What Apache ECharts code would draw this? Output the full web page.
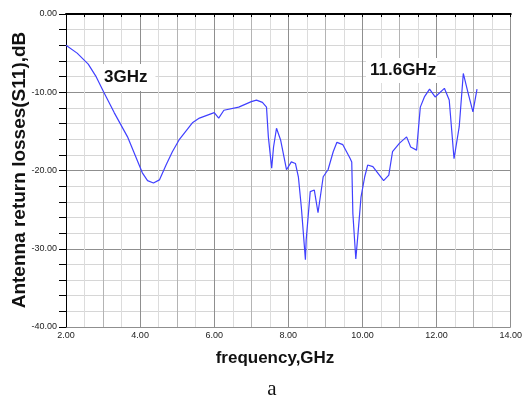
<!DOCTYPE html>
<html><head><meta charset="utf-8">
<script src="https://cdn.jsdelivr.net/npm/echarts@6/dist/echarts.min.js"></script>
<style>html,body{margin:0;padding:0;background:#fff}#c{width:525px;height:401px}</style>
</head><body><div id="c"></div>
<script>
const freqGHz = [2.0,2.3,2.6,2.8,3.02,3.3,3.66,4.06,4.2,4.36,4.52,4.7,4.87,5.05,5.41,5.6,6.0,6.12,6.26,6.66,7.0,7.14,7.3,7.41,7.46,7.55,7.6,7.68,7.79,7.95,8.08,8.19,8.27,8.35,8.46,8.48,8.59,8.70,8.80,8.94,9.07,9.21,9.31,9.47,9.66,9.71,9.74,9.82,9.88,9.96,10.06,10.14,10.28,10.57,10.71,10.81,11.0,11.19,11.30,11.46,11.56,11.67,11.81,11.96,12.21,12.34,12.47,12.61,12.72,12.85,12.98,13.09];
const s11dB = [-4.0,-5.0,-6.4,-7.9,-10.0,-12.6,-15.7,-20.3,-21.3,-21.6,-21.2,-19.3,-17.6,-16.1,-13.9,-13.3,-12.6,-13.3,-12.3,-11.9,-11.2,-11.0,-11.3,-11.9,-15.7,-19.7,-17.0,-14.6,-16.1,-19.9,-18.9,-19.1,-20.8,-24.7,-31.4,-28.9,-22.7,-22.5,-25.4,-20.8,-19.9,-17.6,-16.4,-16.7,-18.4,-18.9,-25.5,-31.3,-28.0,-23.4,-20.8,-19.3,-19.5,-21.3,-20.6,-17.6,-16.5,-15.7,-17.0,-17.4,-11.9,-10.6,-9.6,-10.6,-9.5,-11.0,-18.5,-14.4,-7.6,-10.1,-12.5,-9.6];
const xLabelStep = 2;
const yLabelStep = 10;
const yAxisTitle = 'Antenna return losses(S11),dB';
const xAxisTitle = 'frequency,GHz';
const subCaption = 'a';
const annotations = ['3GHz', '11.6GHz'];

const chart = echarts.init(document.getElementById('c'));
const font = '"Liberation Sans", Arial, sans-serif';
chart.setOption({
  animation: false,
  grid: { left: 66, right: 11, top: 14, bottom: 74, containLabel: false },
  xAxis: [{
    type: 'value', min: 2, max: 14, interval: 0.5,
    axisLine: { show: true, lineStyle: { color: '#000', width: 2 } },
    axisTick: { show: true, length: 3, lineStyle: { color: '#000' } },
    axisLabel: { margin: 4, fontFamily: font, fontSize: 9, color: '#222',
      formatter: v => (Math.abs(v % xLabelStep) < 1e-9 ? v.toFixed(2) : '') },
    splitLine: { show: true, lineStyle: { width: 1, color: ['#8f8f8f', '#dcdcdc', '#b4b4b4', '#dcdcdc'] } }
  }, {
    type: 'value', min: 2, max: 14, position: 'top',
    axisLine: { show: true, lineStyle: { color: '#000', width: 1 } },
    axisTick: { show: false }, axisLabel: { show: false }, splitLine: { show: false }
  }],
  yAxis: {
    type: 'value', min: -40, max: 0, interval: 2,
    axisLine: { show: true, lineStyle: { color: '#000', width: 1 } },
    axisTick: { show: true, length: 7, lineStyle: { color: '#000' } },
    axisLabel: { margin: 9, fontFamily: font, fontSize: 9, color: '#222',
      formatter: v => (Math.abs(v % yLabelStep) < 1e-9 ? v.toFixed(2) : '') },
    splitLine: { show: true, lineStyle: { width: 1, color: ['#8f8f8f', '#d6d6d6', '#d6d6d6', '#d6d6d6', '#d6d6d6'] } }
  },
  series: [{
    type: 'line', showSymbol: false, symbol: 'none', z: 5,
    data: freqGHz.map((f, i) => [f, s11dB[i]]),
    lineStyle: { color: '#4040ff', width: 1.2 }
  }],
  graphic: [
    { type: 'text', x: 97, y: 64, z: 1, style: { text: annotations[0], font: 'bold 17px ' + font, fill: '#111', backgroundColor: '#fff', padding: [5, 8, 5, 7] } },
    { type: 'text', x: 366, y: 58, z: 1, style: { text: annotations[1], font: 'bold 17px ' + font, fill: '#111', backgroundColor: '#fff', padding: [4, 1, 4, 4] } },
    { type: 'text', x: 20, y: 170, rotation: Math.PI / 2, style: { text: yAxisTitle, font: 'bold 19px ' + font, fill: '#111', align: 'center', verticalAlign: 'middle' } },
    { type: 'text', x: 275, y: 358, style: { text: xAxisTitle, font: 'bold 17px ' + font, fill: '#111', align: 'center', verticalAlign: 'middle' } },
    { type: 'text', x: 272, y: 389, style: { text: subCaption, font: '21px "Liberation Serif", "Times New Roman", serif', fill: '#111', align: 'center', verticalAlign: 'middle' } }
  ]
});
</script></body></html>
